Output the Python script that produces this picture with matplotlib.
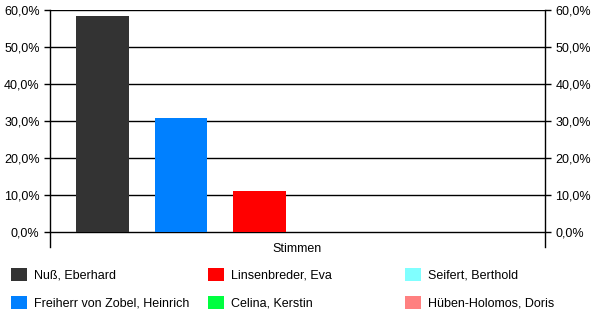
import numpy as np
import matplotlib
matplotlib.use("Agg")
import matplotlib.pyplot as plt
from matplotlib.patches import Patch

plt.rcParams['font.family'] = ['Liberation Sans', 'DejaVu Sans']

kandidaten = ["Nuß, Eberhard", "Freiherr von Zobel, Heinrich", "Linsenbreder, Eva",
              "Celina, Kerstin", "Seifert, Berthold", "Hüben-Holomos, Doris"]
anteile = [58.3, 30.8, 11.0, 0.0, 0.0, 0.0]
farben = ['#333333', '#0080FF', '#FF0000', '#00FF40', '#80FFFF', '#FF8080']
kategorie = "Stimmen"
yticks = [0, 10, 20, 30, 40, 50, 60]

fig = plt.figure(figsize=(6.0, 3.26), dpi=100)
ax = fig.add_axes([50/600, (326-247)/326, (545-50)/600, (247-10)/326])

x = np.arange(len(anteile))
ax.bar(x, anteile, width=0.675, color=farben, linewidth=0, zorder=3)

ax.set_xlim(-0.67, 5.64)
ax.set_ylim(-4.0, 60)
for y in yticks:
    ax.axhline(y, color='black', lw=1, zorder=1)

ax.set_yticks(yticks)
ax.set_yticklabels([f"{v:.1f}%".replace('.', ',') for v in yticks])
ax.tick_params(axis='y', which='both', left=True, right=True, labelleft=True,
               labelright=True, direction='out', length=4.5, width=1,
               labelsize=9, pad=3, colors='black')
ax.set_xticks([np.mean(ax.get_xlim())])
ax.set_xticklabels([kategorie])
ax.tick_params(axis='x', length=0, labelsize=9, pad=-3)

for s in ['top', 'bottom']:
    ax.spines[s].set_visible(False)
for s in ['left', 'right']:
    ax.spines[s].set_linewidth(1)
    ax.spines[s].set_color('black')

# Legende in drei Spalten, wie im Original gesetzt
handles = [Patch(facecolor=c, edgecolor='none') for c in farben]
spalten_x = [11, 208, 405]
for i, sx in enumerate(spalten_x):
    leg = fig.legend(handles[2*i:2*i+2], kandidaten[2*i:2*i+2], loc='upper left',
                     bbox_to_anchor=(sx/600, (326-268)/326), frameon=False,
                     borderpad=0, borderaxespad=0, handlelength=1.28, handleheight=1.25,
                     handletextpad=0.56, labelspacing=1.15, fontsize=9)

fig.savefig("out.png", dpi=100)
